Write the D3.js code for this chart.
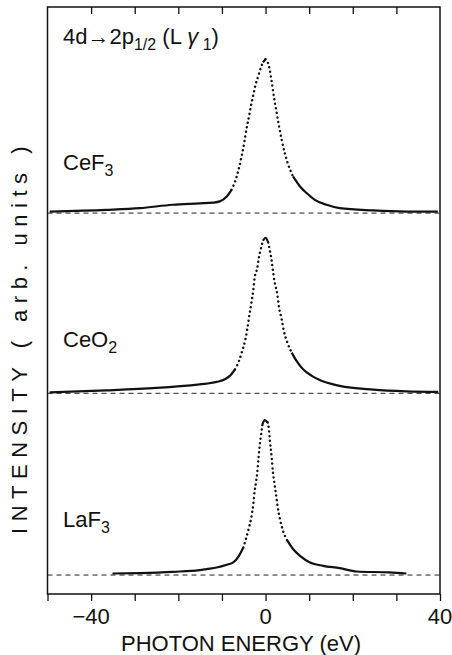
<!DOCTYPE html>
<meta charset="utf-8">
<script src="https://cdn.jsdelivr.net/npm/d3@7"></script>
<style>
body { margin: 0; background: #fff; }
text { font-family: "Liberation Sans", Arial, sans-serif; fill: #111; }
.frame { fill: none; stroke: #111; stroke-width: 1.5px; }
.base { stroke: #222; stroke-width: 1px; stroke-dasharray: 5,4; }
.solid { fill: none; stroke: #111; stroke-width: 2.2px; stroke-linejoin: round; }
.dots { fill: none; stroke: #111; stroke-width: 2.4px; stroke-linecap: round; stroke-dasharray: 0.1,4.5; }
.tick line { stroke: #111; stroke-width: 1.3px; }
</style>
<body>
<script>

// energies relative to the L gamma1 line (eV), intensity in arb. units (peak ~100)
var ceF3 = [[-49.5,1.0],[-36.5,2.1],[-28.8,3.2],[-21.3,5.4],[-15.1,6.3],[-12.0,6.8],[-10.5,7.6],
  [-8.9,10.8],[-7.8,15.1],[-7.0,20.5],[-6.2,28.1],[-5.5,36.8],[-4.9,45.5],[-4.4,54.1],[-3.8,62.7],
  [-3.3,70.3],[-2.8,76.8],[-2.3,83.3],[-1.7,88.7],[-1.1,94.2],[-0.6,97.8],[0,100],[0.8,95.2],
  [1.4,85.5],[1.9,75.7],[2.5,66.0],[3.1,56.2],[3.7,47.6],[4.4,39.0],[5.2,31.4],[6.3,23.8],
  [7.9,17.3],[9.4,13.0],[11.3,8.6],[14.0,5.4],[17.0,3.2],[24.6,1.7],[32.3,1.0],[39.5,1.0]];

var ceO2 = [[-49.5,0.6],[-36.5,1.9],[-25.0,3.5],[-15.1,5.8],[-13.5,6.3],[-11.2,7.4],[-9.3,9.1],
  [-8.2,11.3],[-7.0,15.6],[-6.1,21.0],[-5.4,27.1],[-4.7,34.0],[-4.2,41.6],[-3.8,49.2],[-3.3,57.8],
  [-2.8,67.5],[-2.5,75.1],[-1.9,81.2],[-1.5,88.6],[-1.1,93.5],[-0.6,99],[0,101],[0.6,97.9],
  [1.0,92.5],[1.4,86],[1.7,79.5],[2.1,71.9],[2.7,64.3],[3.1,55.6],[3.7,48.1],[4.2,40.5],
  [5.0,32.9],[6.0,26.4],[7.1,21.0],[8.6,15.6],[10.6,11.3],[12.8,8.1],[15.5,5.8],[17.0,4.8],
  [24.7,2.4],[32.3,1.3],[39.6,0.9]];

var laF3 = [[-35.1,1.0],[-28.8,1.3],[-21.2,2.1],[-15.1,3.2],[-13.5,3.9],[-11.2,4.9],[-8.9,6.7],
  [-7.4,8.2],[-6.1,12.5],[-5.1,17.9],[-4.4,24.4],[-3.8,30.9],[-3.2,38.5],[-2.8,46.1],[-2.5,54.7],
  [-2.2,60.1],[-1.9,66.6],[-1.6,76.4],[-1.3,85.1],[-1.0,91.6],[-0.7,98],[-0.2,100.6],[0.5,99.1],
  [0.8,93.7],[1.0,87.2],[1.4,76.4],[1.7,66.6],[2.0,60.1],[2.4,52.6],[2.8,43.9],[3.3,36.4],
  [4.0,28.8],[5.0,22.3],[6.3,16.9],[7.9,12.5],[10.2,8.2],[13.2,6.0],[17.0,4.5],[20.9,2.3],
  [28.5,1.7],[32.3,1.0]];

var series = [ceF3, ceO2, laF3];
var names = ["CeF", "CeO", "LaF"];
var subs = ["3", "2", "3"];
var offsets = [235, 118, 0];
var majorTicks = [-40, 0, 40];
var minorTicks = [-50, -40, -30, -20, -10, 0, 10, 20, 30, 40];

var width = 452, height = 655;
var padL = 47.5, padR = 440, padT = 7, padB = 594;

var svg = d3.select("body").append("svg")
    .attr("width", width)
    .attr("height", height);

var x = d3.scaleLinear().domain([-50, 40]).range([padL, padR]);
var y = d3.scaleLinear().domain([-12.3, 368.8]).range([padB, padT]);

// dashed zero lines
svg.selectAll(".base")
    .data(offsets)
    .enter().append("line")
    .attr("class", "base")
    .attr("x1", padL).attr("x2", padR)
    .attr("y1", function(d) { return y(d); })
    .attr("y2", function(d) { return y(d); });

var line = d3.line()
    .x(function(d) { return x(d[0]); })
    .y(function(d) { return y(d[1]); })
    .curve(d3.curveMonotoneX);

// split each spectrum in runs: flat parts look solid, steep parts dotted
series.forEach(function(s, i) {
  var pts = s.map(function(d) { return [d[0], d[1] + offsets[i]]; });
  var runs = [];
  for (var k = 1; k < pts.length; k++) {
    var dx = Math.abs(x(pts[k][0]) - x(pts[k-1][0])),
        dy = Math.abs(y(pts[k][1]) - y(pts[k-1][1]));
    var steep = dy > 2 * dx;
    var last = runs[runs.length - 1];
    if (last && last.steep == steep) last.pts.push(pts[k]);
    else runs.push({steep: steep, pts: [pts[k-1], pts[k]]});
  }
  runs.forEach(function(r) {
    svg.append("path")
        .attr("class", r.steep ? "dots" : "solid")
        .attr("d", line(r.pts));
  });

  var lbl = svg.append("text")
      .attr("x", 63)
      .attr("y", [170, 347, 527][i])
      .style("font-size", "22px")
      .text(names[i]);
  lbl.append("tspan").attr("dy", 6).style("font-size", "16px").text(subs[i]);
});

// frame and axes
svg.append("rect").attr("class", "frame")
    .attr("x", padL).attr("y", padT)
    .attr("width", padR - padL).attr("height", padB - padT);

var bottomAxis = d3.axisBottom(x).tickValues(minorTicks).tickSize(7).tickFormat("");
svg.append("g").attr("transform", "translate(0," + padB + ")").call(bottomAxis)
    .call(function(g) { g.select(".domain").remove(); });

var topAxis = d3.axisBottom(x).tickValues(minorTicks.slice(1, -1)).tickSize(7).tickFormat("");
svg.append("g").attr("transform", "translate(0," + padT + ")").call(topAxis)
    .call(function(g) { g.select(".domain").remove(); });

svg.selectAll(".tlabel")
    .data(majorTicks)
    .enter().append("text")
    .attr("x", function(d) { return x(d); })
    .attr("y", 624)
    .attr("text-anchor", "middle")
    .style("font-size", "22px")
    .text(function(d) { return d < 0 ? "\u2212" + Math.abs(d) : d; });

svg.append("text")
    .attr("x", 241).attr("y", 651)
    .attr("text-anchor", "middle")
    .style("font-size", "22px")
    .text("PHOTON ENERGY (eV)");

svg.append("text")
    .attr("transform", "translate(27,337) rotate(-90)")
    .attr("text-anchor", "middle")
    .style("font-size", "22px")
    .style("letter-spacing", "6.5px")
    .text("INTENSITY ( arb. units )");

// transition label
var t = svg.append("text").attr("x", 63).attr("y", 44).style("font-size", "22px");
t.append("tspan").text("4d\u21922p");
t.append("tspan").attr("dy", 6).style("font-size", "16px").text("1/2");
t.append("tspan").attr("dy", -6).text(" (L ");
t.append("tspan").style("font-style", "italic").text("\u03b3");
t.append("tspan").attr("dy", 6).style("font-size", "16px").text(" 1");
t.append("tspan").attr("dy", -6).text(")");

</script>
</body>
</html>
